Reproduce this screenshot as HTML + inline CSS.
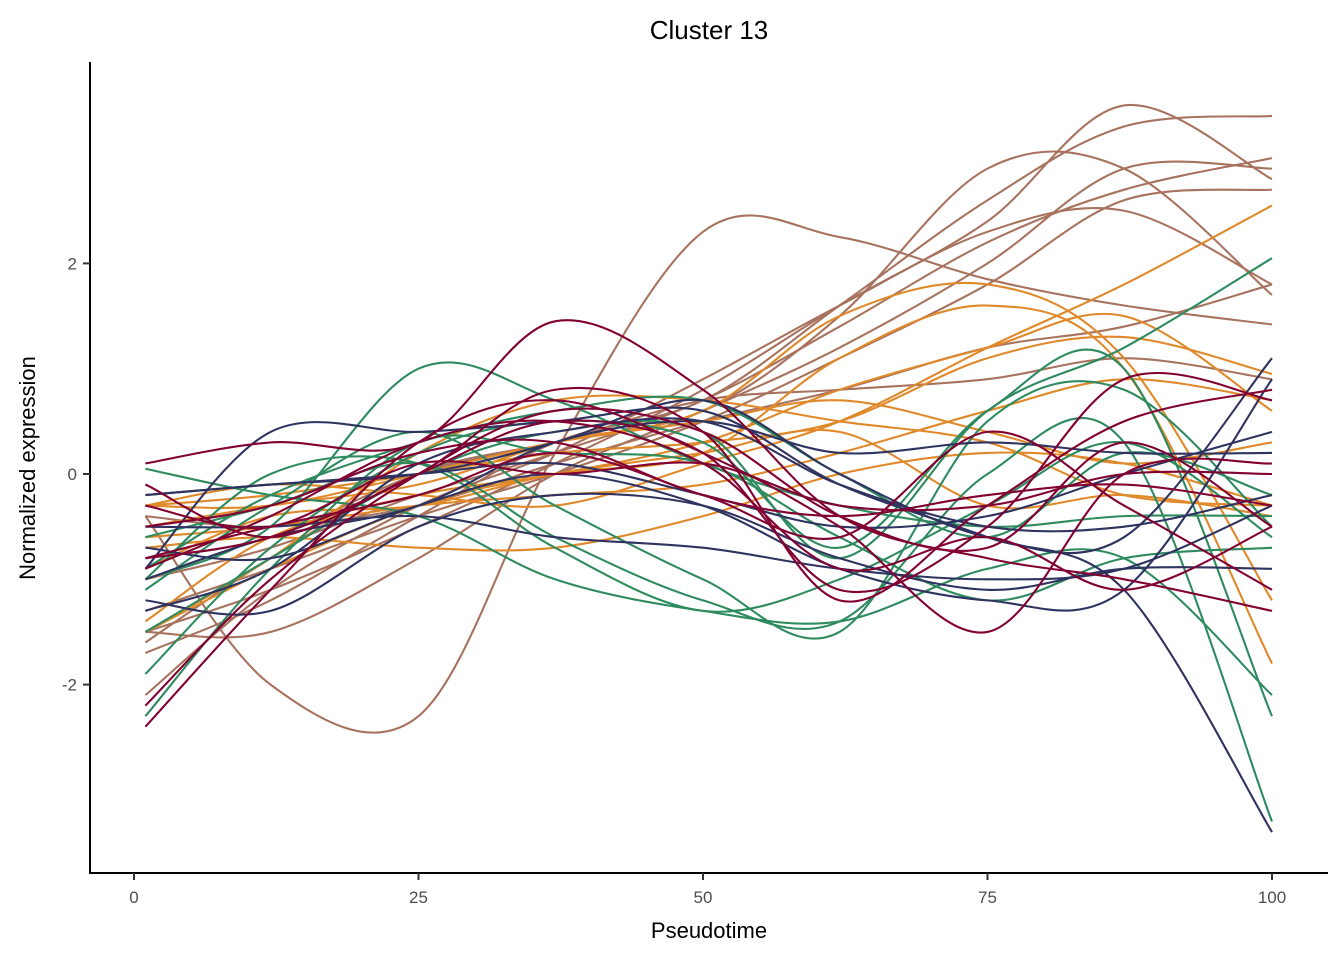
<!DOCTYPE html>
<html><head><meta charset="utf-8"><style>
html,body{margin:0;padding:0;background:#fff;}
svg{display:block;font-family:"Liberation Sans",sans-serif;}
</style></head><body>
<svg id="chart" width="1344" height="960">
<text x="709" y="39" text-anchor="middle" font-size="26" fill="#000">Cluster 13</text>
<g id="lines"></g>
<g id="axes"></g>
<text x="709" y="938" text-anchor="middle" font-size="22" fill="#000">Pseudotime</text>
<text transform="translate(35,468) rotate(-90)" text-anchor="middle" font-size="22" fill="#000">Normalized expression</text>
</svg>
<script>
const pseudotime = [1,12,25,37,50,62,75,87,100];
const xTicks = [0,25,50,75,100];
const yTicks = [-2,0,2];
const colorBrown="#a8735e", colorOrange="#e0892a", colorGreen="#2e8b5f", colorNavy="#2f3360", colorCrimson="#820032";
const brownSeries = [
[-0.4,-2.0,-2.3,0.2,2.3,2.25,1.85,1.6,1.42],
[-1.7,-1.2,-0.4,0.3,0.7,1.6,2.6,3.3,3.4],
[-1.5,-1.1,-0.5,0.1,0.8,1.6,2.4,3.5,2.8],
[-1.6,-0.8,0.0,0.3,0.6,1.5,2.9,2.9,1.7],
[-1.0,-0.7,-0.2,0.2,0.7,1.4,2.2,2.7,3.0],
[-2.1,-1.1,-0.3,0.2,0.9,1.6,2.3,2.5,1.8],
[-0.4,-0.5,-0.3,0.1,0.5,0.8,1.2,1.4,1.8],
[-0.8,-0.6,0.0,0.3,0.7,0.8,0.9,1.1,0.9],
[-1.3,-0.9,-0.4,0.0,0.5,1.1,1.8,2.6,2.7],
[-1.5,-1.5,-0.8,0.0,0.6,1.2,2.0,2.9,2.9]];
const orangeSeries = [
[-0.3,-0.1,-0.2,-0.3,0.1,0.5,1.2,1.8,2.55],
[-0.5,-0.3,-0.1,0.3,0.6,1.5,1.8,1.1,-1.2],
[-1.5,-0.8,0.2,0.7,0.7,0.5,0.3,-0.2,-0.3],
[-0.7,-0.6,-0.7,-0.7,-0.4,0.0,0.2,0.1,-0.3],
[-0.3,-0.2,0.0,0.2,0.3,0.5,1.1,1.3,0.95],
[-1.4,-0.6,-0.2,0.0,0.3,0.8,1.2,1.5,0.6],
[-0.9,-0.4,-0.3,0.0,0.2,1.1,1.6,1.0,-1.8],
[-0.3,-0.3,0.0,0.3,0.5,0.7,0.4,0.1,0.3],
[-1.5,-0.9,-0.3,0.0,0.2,0.4,-0.3,-0.2,-0.4],
[-0.6,-0.5,-0.3,-0.2,-0.1,0.2,0.6,0.9,0.7]];
const greenSeries = [
[-1.0,-0.5,1.0,0.7,0.1,-0.3,-0.5,-0.4,-0.4],
[-1.9,-0.7,0.2,0.5,0.3,-0.7,0.6,1.0,-2.3],
[-0.6,-0.3,0.1,-0.6,-1.2,-1.4,0.0,0.3,-3.3],
[0.05,-0.2,-0.4,-1.0,-1.3,-1.4,-0.9,-0.8,-2.1],
[-1.1,-0.3,0.4,-0.3,-1.0,-1.5,0.5,0.8,-0.5],
[-2.3,-0.9,0.3,0.2,0.1,-0.6,-1.2,-0.8,-0.7],
[-0.9,-0.2,0.3,0.6,0.7,0.0,-0.6,0.2,-0.2],
[-1.5,-0.8,0.0,0.4,0.4,-0.8,0.6,1.2,2.05],
[-1.0,0.0,0.1,-0.7,-1.3,-1.0,-0.3,0.3,-0.6]];
const navySeries = [
[-0.9,0.4,0.4,0.5,0.6,-0.1,-0.6,-1.1,-3.4],
[-0.2,-0.1,0.0,0.3,0.7,0.0,-0.6,-0.6,1.1],
[-0.5,-0.5,-0.4,-0.6,-0.7,-0.9,-1.0,-0.9,-0.3],
[-1.2,-1.3,-0.5,-0.2,-0.3,-0.8,-1.1,-0.9,-0.9],
[-1.0,-0.6,-0.3,0.3,0.5,0.2,0.3,0.2,0.2],
[-0.2,-0.1,0.0,0.1,-0.2,-0.5,-0.4,0.0,0.4],
[-0.7,-0.8,-0.3,0.0,-0.3,-0.9,-1.2,-1.1,0.9],
[-1.3,-0.9,0.1,0.4,0.5,-0.1,-0.5,-0.5,-0.2]];
const crimsonSeries = [
[0.1,0.3,0.3,1.45,0.8,-0.4,-0.8,-1.0,-1.3],
[-2.4,-1.1,0.3,0.7,0.2,-0.5,-1.5,0.0,0.1],
[-2.2,-1.0,0.0,0.6,0.4,-0.4,-0.7,0.3,-0.5],
[-0.1,-0.6,0.0,0.5,0.2,-1.1,-0.5,0.9,0.7],
[-0.8,-0.6,0.0,0.8,0.4,-1.2,-0.3,0.5,0.8],
[-0.8,-0.5,-0.2,0.2,-0.2,-0.6,0.4,-0.3,-1.1],
[-0.5,-0.3,0.2,0.3,-0.2,-0.4,-0.2,-0.1,-0.3],
[-0.3,-0.5,0.1,0.0,0.1,-0.3,-0.3,0.0,0.0],
[-0.9,-0.4,0.3,0.5,0.1,-0.9,-0.6,-1.1,-0.5]];

const NS="http://www.w3.org/2000/svg";
function xScale(v){return 134+(v/100)*1138;}
function yScale(v){return 474-v*105.3;}
function pathFor(vals){
  const p=vals.map((v,i)=>[xScale(pseudotime[i]),yScale(v)]);
  let d="M"+p[0][0]+","+p[0][1];
  for(let i=0;i<p.length-1;i++){
    const p0=p[Math.max(0,i-1)],p1=p[i],p2=p[i+1],p3=p[Math.min(p.length-1,i+2)];
    const c1x=p1[0]+(p2[0]-p0[0])/6,c1y=p1[1]+(p2[1]-p0[1])/6;
    const c2x=p2[0]-(p3[0]-p1[0])/6,c2y=p2[1]-(p3[1]-p1[1])/6;
    d+=" C"+c1x+","+c1y+" "+c2x+","+c2y+" "+p2[0]+","+p2[1];
  }
  return d;
}
const g=document.getElementById("lines");
const groups=[["brown",brownSeries,colorBrown],["orange",orangeSeries,colorOrange],["green",greenSeries,colorGreen],["navy",navySeries,colorNavy],["crimson",crimsonSeries,colorCrimson]];
groups.forEach(([nm,arr,col])=>{
  arr.forEach((vals,k)=>{
    const el=document.createElementNS(NS,"path");
    el.setAttribute("d",pathFor(vals));
    el.setAttribute("fill","none");
    el.setAttribute("stroke",col);
    el.setAttribute("stroke-width","2.1");
    
    
    g.appendChild(el);
  });
});
const ax=document.getElementById("axes");
function add(tag,attrs,text){const e=document.createElementNS(NS,tag);for(const k in attrs)e.setAttribute(k,attrs[k]);if(text!==undefined)e.textContent=text;ax.appendChild(e);return e;}
let e=add("line",{x1:90,y1:62,x2:90,y2:874,stroke:"#000","stroke-width":2});

e=add("line",{x1:89,y1:873,x2:1328,y2:873,stroke:"#000","stroke-width":2});

xTicks.forEach(t=>{
  const x=xScale(t);
  let l=add("line",{x1:x,y1:873,x2:x,y2:880,stroke:"#333","stroke-width":2});
  
  let tx=add("text",{x:x,y:903,"text-anchor":"middle","font-size":"17",fill:"#4d4d4d"},String(t));
  
});
yTicks.forEach(t=>{
  const y=yScale(t);
  let l=add("line",{x1:83,y1:y,x2:90,y2:y,stroke:"#333","stroke-width":2});
  
  let tx=add("text",{x:77,y:y+6,"text-anchor":"end","font-size":"17",fill:"#4d4d4d"},String(t));
  
});
</script>
</body></html>
